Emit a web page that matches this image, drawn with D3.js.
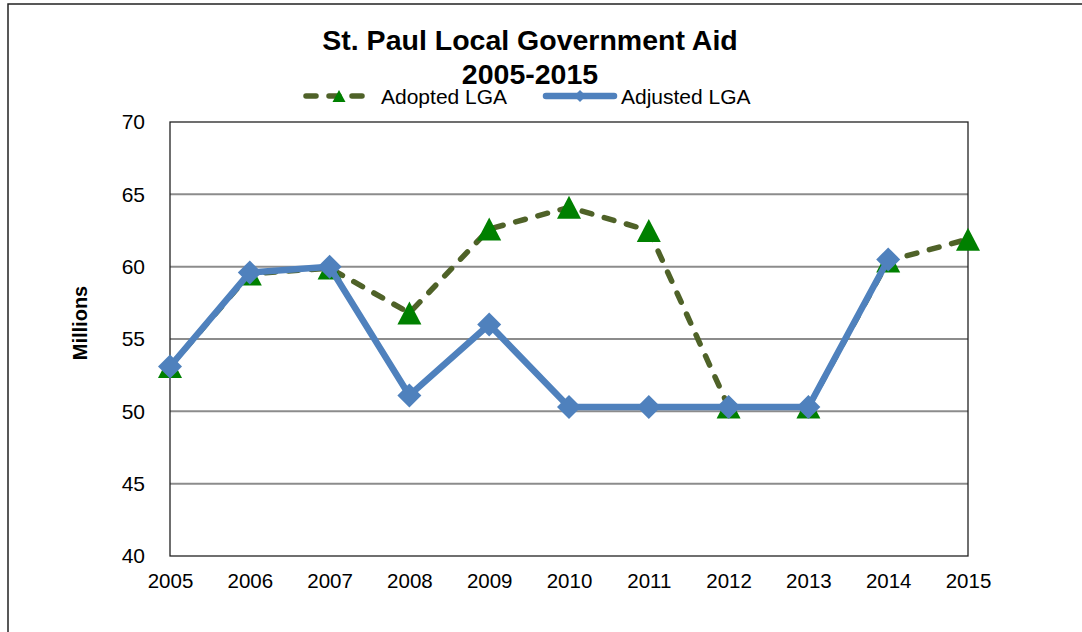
<!DOCTYPE html>
<html>
<head>
<meta charset="utf-8">
<script src="https://cdn.jsdelivr.net/npm/d3@7"></script>
<style>
  html, body { margin: 0; padding: 0; background: #fff; }
  svg { display: block; font-family: "Liberation Sans", Arial, sans-serif; }
</style>
</head>
<body>
<svg id="chart" width="1082" height="632"></svg>
<script>
const years = [2005, 2006, 2007, 2008, 2009, 2010, 2011, 2012, 2013, 2014, 2015];
const adoptedLGA = [53.1, 59.5, 59.9, 56.8, 62.6, 64.1, 62.5, 50.3, 50.3, 60.4, 61.9];
const adjustedLGA = [53.1, 59.6, 60.0, 51.1, 56.0, 50.3, 50.3, 50.3, 50.3, 60.5, null];
const yTicks = [40, 45, 50, 55, 60, 65, 70];
const titleLines = ["St. Paul Local Government Aid", "2005-2015"];
const seriesNames = ["Adopted LGA", "Adjusted LGA"];
const yLabel = "Millions";

const svg = d3.select("#chart");
const plot = { left: 170, top: 122, right: 968, bottom: 556 };

const x = d3.scaleLinear().domain([years[0], years[years.length - 1]]).range([plot.left, plot.right]);
const y = d3.scaleLinear().domain([40, 70]).range([plot.bottom, plot.top]);

// outer chart border
svg.append("rect").attr("x", 8).attr("y", 4).attr("width", 1100).attr("height", 700)
  .attr("fill", "none").attr("stroke", "#222").attr("stroke-width", 1.5);

// gridlines
svg.append("g").selectAll("line").data(yTicks.filter(d => d > 40 && d < 70)).join("line")
  .attr("x1", plot.left).attr("x2", plot.right)
  .attr("y1", d => y(d)).attr("y2", d => y(d))
  .attr("stroke", "#8c8c8c").attr("stroke-width", 2);

// plot frame
svg.append("rect").attr("x", plot.left).attr("y", plot.top)
  .attr("width", plot.right - plot.left).attr("height", plot.bottom - plot.top)
  .attr("fill", "none").attr("stroke", "#222").attr("stroke-width", 1.3);

// y axis
const yAxis = d3.axisLeft(y).tickValues(yTicks).tickSize(0).tickPadding(25);
const gy = svg.append("g").attr("transform", `translate(${plot.left},0)`).call(yAxis);
gy.select(".domain").remove();
gy.selectAll("text").attr("font-size", 21).attr("fill", "#000")
  .attr("font-family", "Liberation Sans, Arial, sans-serif");

// x axis
const xAxis = d3.axisBottom(x).tickValues(years).tickFormat(d3.format("d")).tickSize(0).tickPadding(17);
const gx = svg.append("g").attr("transform", `translate(0,${plot.bottom})`).call(xAxis);
gx.select(".domain").remove();
gx.selectAll("text").attr("font-size", 20.5).attr("fill", "#000")
  .attr("font-family", "Liberation Sans, Arial, sans-serif");

// y label
svg.append("text").attr("transform", "translate(87,323) rotate(-90)")
  .attr("text-anchor", "middle").attr("font-size", 20).attr("font-weight", "bold")
  .text(yLabel);

// title
svg.append("text").attr("x", 530).attr("y", 50).attr("text-anchor", "middle")
  .attr("font-size", 28.5).attr("font-weight", "bold").text(titleLines[0]);
svg.append("text").attr("x", 530).attr("y", 84).attr("text-anchor", "middle")
  .attr("font-size", 28.5).attr("font-weight", "bold").text(titleLines[1]);

const diamond = (s) => `M0,${-s}L${s},0L0,${s}L${-s},0Z`;
function triPath(w, h) { return `M0,${-h/2}L${w/2},${h/2}L${-w/2},${h/2}Z`; }

// adopted series
const adoptedData = years.map((yr, i) => ({ yr, v: adoptedLGA[i] }));
const line = d3.line().defined(d => d.v != null).x(d => x(d.yr)).y(d => y(d.v));
svg.append("path").datum(adoptedData).attr("d", line)
  .attr("fill", "none").attr("stroke", "#4F6228").attr("stroke-width", 5.5)
  .attr("stroke-dasharray", "10,13").attr("stroke-linecap", "round").attr("stroke-linejoin", "round");
svg.append("g").selectAll("path").data(adoptedData).join("path")
  .attr("transform", d => `translate(${x(d.yr)},${y(d.v)})`)
  .attr("d", triPath(24, 23)).attr("fill", "#008000");

// adjusted series
const adjustedData = years.map((yr, i) => ({ yr, v: adjustedLGA[i] })).filter(d => d.v != null);
svg.append("path").datum(adjustedData).attr("d", line)
  .attr("fill", "none").attr("stroke", "#4F81BD").attr("stroke-width", 6.5)
  .attr("stroke-linejoin", "round");
svg.append("g").selectAll("path").data(adjustedData).join("path")
  .attr("transform", d => `translate(${x(d.yr)},${y(d.v)})`)
  .attr("d", diamond(12)).attr("fill", "#4F81BD");

// legend
const lg = svg.append("g");
lg.append("line").attr("x1", 306).attr("x2", 364).attr("y1", 96).attr("y2", 96)
  .attr("stroke", "#4F6228").attr("stroke-width", 5.5)
  .attr("stroke-dasharray", "10,13").attr("stroke-linecap", "round");
lg.append("path").attr("transform", "translate(339,96)").attr("d", triPath(13, 12)).attr("fill", "#008000");
lg.append("text").attr("x", 381).attr("y", 104).attr("font-size", 21).text(seriesNames[0]);
lg.append("line").attr("x1", 546).attr("x2", 614).attr("y1", 96).attr("y2", 96)
  .attr("stroke", "#4F81BD").attr("stroke-width", 6.5).attr("stroke-linecap", "round");
lg.append("path").attr("transform", "translate(580,96)").attr("d", diamond(6)).attr("fill", "#4F81BD");
lg.append("text").attr("x", 621).attr("y", 104).attr("font-size", 21).text(seriesNames[1]);
</script>
</body>
</html>
